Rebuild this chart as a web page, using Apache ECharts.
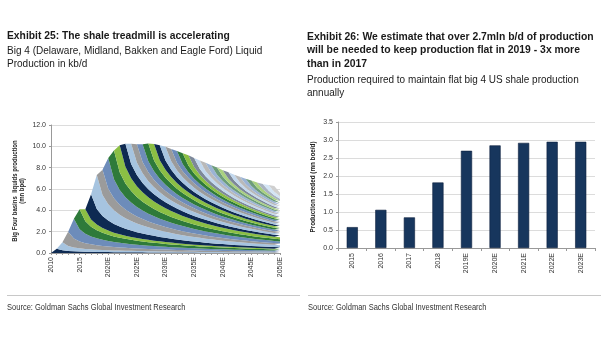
<!DOCTYPE html>
<html><head><meta charset="utf-8">
<script src="https://cdn.jsdelivr.net/npm/echarts@6/dist/echarts.min.js"></script>
<style>html,body{margin:0;padding:0;background:#fff}#c{width:605px;height:341px}</style>
</head><body><div id="c"></div>
<script>
// ---- Left chart data (Exhibit 25) ----
const years = ['2010','2011','2012','2013','2014','2015','2016','2017','2018','2019',
  '2020E','2021E','2022E','2023E','2024E','2025E','2026E','2027E','2028E','2029E',
  '2030E','2031E','2032E','2033E','2034E','2035E','2036E','2037E','2038E','2039E',
  '2040E','2041E','2042E','2043E','2044E','2045E','2046E','2047E','2048E','2049E','2050E'];
// index (into years) at which each annual vintage starts: vintages 2011..2049
const vintageStartIndex = [1,2,3,4,5,6,7,8,9,10,11,12,13,14,15,16,17,18,19,20,21,22,23,24,25,26,27,28,29,30,31,32,33,34,35,36,37,38,39];
// first-year production of each vintage (mn bpd)
const vintageSize = [0.40,0.75,1.34,1.85,1.87,1.13,2.35,3.18,2.36,2.87,
  2.69,2.52,2.16,1.89,1.72,1.67,1.66,1.53,1.41,1.29,
  1.16,1.09,1.02,0.96,0.86,0.81,0.76,0.72,0.68,0.60,
  0.61,0.53,0.55,0.53,0.50,0.48,0.50,0.53,0.52];
// cohort decline profile (share of first-year rate by year on production)
const declineProfile = [1,0.62,0.48,0.40,0.35,0.31,0.28,0.255,0.235,0.218,
  0.203,0.19,0.178,0.167,0.157,0.148,0.14,0.132,0.125,0.118,
  0.112,0.106,0.101,0.096,0.091,0.087,0.083,0.079,0.075,0.072,
  0.069,0.066,0.063,0.060,0.058,0.055,0.053,0.051,0.049,0.047,0.045];

// ---- Right chart data (Exhibit 26) ----
const barCats = ['2015','2016','2017','2018','2019E','2020E','2021E','2022E','2023E'];
const barVals = [0.58,1.06,0.85,1.82,2.70,2.85,2.92,2.95,2.95];

// colours
const baseCols = ['#0e2a52','#a6c4e0','#9b9b9b','#6d8cba','#2e7a3a','#8bbf44'];
const midCols  = ['#7d8899','#c2d8ee','#b9b9b9','#9bb3d4','#6c9c7a','#a9d17f'];
const lightCols= ['#a9b3c0','#d4e5f5','#cfcfcf','#b7cbe5','#98bfa3','#c6e2a9'];
function colFor(j){ const p = j<24?baseCols:(j<36?midCols:lightCols); return p[j%6]; }

const series = [];
vintageSize.forEach((s,j)=>{
  const st = vintageStartIndex[j];
  const data = years.map((y,i)=> i<st ? 0 : +(s*declineProfile[i-st]).toFixed(4));
  series.push({type:'line',stack:'cake',xAxisIndex:0,yAxisIndex:0,data,symbol:'none',
    lineStyle:{width:0},areaStyle:{color:colFor(j),opacity:1},silent:true});
});
series.push({type:'bar',xAxisIndex:1,yAxisIndex:1,data:barVals,barWidth:'39%',
  itemStyle:{color:'#17365d',borderColor:'#0b1f3c',borderWidth:0.6}});

const lab = {fontSize:7,color:'#333',fontFamily:'Liberation Sans, Arial, sans-serif'};
const FF = '"Liberation Sans",Arial,sans-serif';
function txt(x,y,t,size,bold,sx,color){
  return {type:'text',x:x,y:y,scaleX:sx,silent:true,
    style:{text:t,x:0,y:0,verticalAlign:'middle',align:'left',fontSize:size,
      fontWeight:bold?'bold':'normal',fontFamily:FF,fill:color||'#1a1a1a'}};
}
function vtxt(x,y,t,sx){
  return {type:'text',x:x,y:y,rotation:Math.PI/2,scaleX:sx,silent:true,
    style:{text:t,x:0,y:0,verticalAlign:'middle',align:'center',fontSize:7,
      fontWeight:'bold',fontFamily:FF,fill:'#222'}};
}

const chart = echarts.init(document.getElementById('c'),null,{renderer:'canvas'});
chart.setOption({
  animation:false,
  grid:[{left:51,top:125,width:229,height:128},{left:338,top:122,width:257,height:126}],
  xAxis:[
    {type:'category',gridIndex:0,data:years,boundaryGap:false,
     axisLine:{lineStyle:{color:'#999'}},axisTick:{show:true,interval:0,length:2,lineStyle:{color:'#999'}},
     axisLabel:Object.assign({interval:4,rotate:90,margin:4},lab)},
    {type:'category',gridIndex:1,data:barCats,
     axisLine:{lineStyle:{color:'#999'}},axisTick:{show:true,length:3,lineStyle:{color:'#999'}},
     axisLabel:Object.assign({interval:0,rotate:90,margin:5},lab)}
  ],
  yAxis:[
    {type:'value',gridIndex:0,min:0,max:12,interval:2,
     axisLine:{show:true,lineStyle:{color:'#999'}},axisTick:{show:true,length:2,lineStyle:{color:'#999'}},
     splitLine:{lineStyle:{color:'#dcdcdc'}},
     axisLabel:Object.assign({formatter:v=>v.toFixed(1),margin:5},lab)},
    {type:'value',gridIndex:1,min:0,max:3.5,interval:0.5,
     axisLine:{show:true,lineStyle:{color:'#999'}},axisTick:{show:true,length:2,lineStyle:{color:'#999'}},
     splitLine:{lineStyle:{color:'#dcdcdc'}},
     axisLabel:Object.assign({formatter:v=>v.toFixed(1),margin:5},lab)}
  ],
  series,
  graphic:[
    txt(7,36,'Exhibit 25: The shale treadmill is accelerating',11,true,0.937),
    txt(7,51.5,'Big 4 (Delaware, Midland, Bakken and Eagle Ford) Liquid',10.5,false,0.955),
    txt(7,64.5,'Production in kb/d',10.5,false,0.955),
    txt(307,36.5,'Exhibit 26: We estimate that over 2.7mln b/d of production',11,true,0.944),
    txt(307,50,'will be needed to keep production flat in 2019 - 3x more',11,true,0.944),
    txt(307,63.5,'than in 2017',11,true,0.944),
    txt(307,80,'Production required to maintain flat big 4 US shale production',10.5,false,0.95),
    txt(307,93,'annually',10.5,false,0.95),
    vtxt(15,191,'Big Four basins  liquids production',0.86),
    vtxt(22.5,191,'(mn bpd)',0.86),
    vtxt(313,187,'Production needed (mn boe/d)',0.9),
    {type:'line',silent:true,shape:{x1:7,y1:295.5,x2:300,y2:295.5},style:{stroke:'#c8c8c8',lineWidth:1}},
    {type:'line',silent:true,shape:{x1:308,y1:295.5,x2:601,y2:295.5},style:{stroke:'#c8c8c8',lineWidth:1}},
    txt(7,308,'Source: Goldman Sachs Global Investment Research',8.5,false,0.885,'#333'),
    txt(308,308,'Source: Goldman Sachs Global Investment Research',8.5,false,0.885,'#333')
  ]
});
</script></body></html>
